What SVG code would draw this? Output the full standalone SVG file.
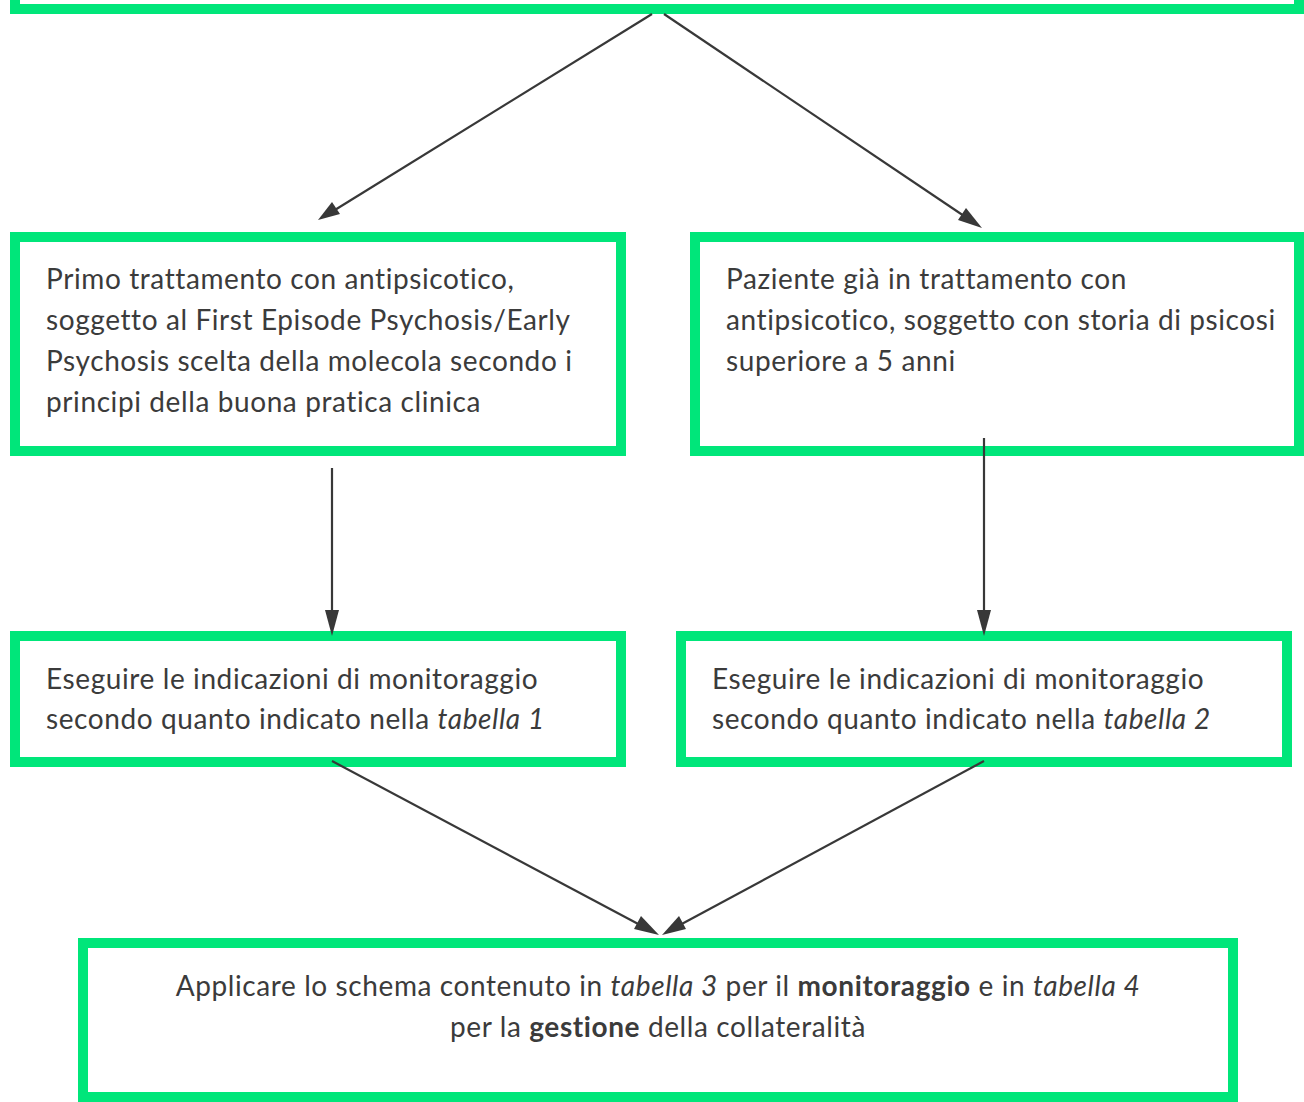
<svg xmlns="http://www.w3.org/2000/svg" width="1304" height="1102" viewBox="0 0 1304 1102">
<style>
.box{fill:#ffffff;stroke:#00E67A;stroke-width:10}
.t{font-family:Lato,"Open Sans","Liberation Sans",sans-serif;font-size:28px;letter-spacing:0.6px;fill:#3b3b3b}
.ln{stroke:#383838;stroke-width:2.2;fill:none}
.hd{fill:#383838}
</style>
<rect width="1304" height="1102" fill="#ffffff"/>
<g id="node-top">
<rect class="box" x="15" y="-20" width="1284" height="29"/>
</g>
<g id="node-primo">
<rect class="box" x="15" y="237" width="606" height="214"/>
<text class="t" x="46" y="289">Primo trattamento con antipsicotico,</text>
<text class="t" x="46" y="330">soggetto al First Episode Psychosis/Early</text>
<text class="t" x="46" y="371">Psychosis scelta della molecola secondo i</text>
<text class="t" x="46" y="412">principi della buona pratica clinica</text>
</g>
<g id="node-paziente">
<rect class="box" x="695" y="237" width="604" height="214"/>
<text class="t" x="726" y="289">Paziente già in trattamento con</text>
<text class="t" x="726" y="330">antipsicotico, soggetto con storia di psicosi</text>
<text class="t" x="726" y="371">superiore a 5 anni</text>
</g>
<g id="node-tab1">
<rect class="box" x="15" y="636" width="606" height="126"/>
<text class="t" x="46" y="689">Eseguire le indicazioni di monitoraggio</text>
<text class="t" x="46" y="729">secondo quanto indicato nella <tspan font-style="italic">tabella 1</tspan></text>
</g>
<g id="node-tab2">
<rect class="box" x="681" y="636" width="606" height="126"/>
<text class="t" x="712" y="689">Eseguire le indicazioni di monitoraggio</text>
<text class="t" x="712" y="729">secondo quanto indicato nella <tspan font-style="italic">tabella 2</tspan></text>
</g>
<g id="node-final">
<rect class="box" x="83" y="943" width="1150" height="154"/>
<text class="t" x="658" y="996" text-anchor="middle">Applicare lo schema contenuto in <tspan font-style="italic">tabella 3</tspan> per il <tspan font-weight="bold">monitoraggio</tspan> e in <tspan font-style="italic">tabella 4</tspan></text>
<text class="t" x="658" y="1037" text-anchor="middle">per la <tspan font-weight="bold">gestione</tspan> della collateralità</text>
</g>
<g id="connectors">
<line class="ln" x1="652" y1="14" x2="330" y2="213"/>
<path class="hd" d="M318,220 L332,202 L340,214 z"/>
<line class="ln" x1="664" y1="14" x2="970" y2="220"/>
<path class="hd" d="M982,228 L958,220 L966,208 z"/>
<line class="ln" x1="332" y1="468" x2="332" y2="616"/>
<path class="hd" d="M332,636 L325,610 L339,610 z"/>
<line class="ln" x1="984" y1="438" x2="984" y2="616"/>
<path class="hd" d="M984,636 L977,610 L991,610 z"/>
<line class="ln" x1="332" y1="761" x2="642" y2="926"/>
<path class="hd" d="M659,935 L634,929 L641,916 z"/>
<line class="ln" x1="984" y1="761" x2="678" y2="926"/>
<path class="hd" d="M662,935 L679,916 L686,929 z"/>
</g>
</svg>
